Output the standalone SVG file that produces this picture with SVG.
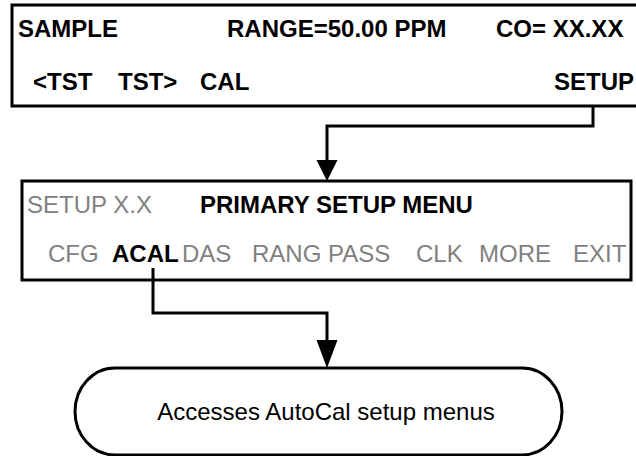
<svg xmlns="http://www.w3.org/2000/svg" width="636" height="456" viewBox="0 0 636 456">
<style>
.box{fill:#fff;stroke:#000;stroke-width:3}
.b{font-family:"Liberation Sans",Arial,sans-serif;font-size:24px;font-weight:bold;fill:#000}
.g{font-family:"Liberation Sans",Arial,sans-serif;font-size:24px;fill:#808080}
.t{font-family:"Liberation Sans",Arial,sans-serif;font-size:24px;fill:#000}
.c{fill:none;stroke:#000;stroke-width:3}
</style>
<rect width="636" height="456" fill="#fff"/>
<g id="sample-screen">
<rect class="box" x="12" y="5" width="630" height="101"/>
<text class="b" x="18" y="37">SAMPLE</text>
<text class="b" x="227" y="37">RANGE=50.00 PPM</text>
<text class="b" x="496" y="37">CO= XX.XX</text>
<text class="b" x="33" y="90">&lt;TST</text>
<text class="b" x="118" y="90">TST&gt;</text>
<text class="b" x="200" y="90">CAL</text>
<text class="b" x="554" y="90">SETUP</text>
</g>
<g id="setup-menu">
<rect class="box" x="22" y="181" width="609" height="99"/>
<text class="g" x="27" y="213">SETUP X.X</text>
<text class="b" x="200" y="213">PRIMARY SETUP MENU</text>
<text class="g" x="48" y="262">CFG</text>
<text class="b" x="112" y="262">ACAL</text>
<text class="g" x="182" y="262">DAS</text>
<text class="g" x="252" y="262">RANG PASS</text>
<text class="g" x="416" y="262">CLK</text>
<text class="g" x="479" y="262">MORE</text>
<text class="g" x="573" y="262">EXIT</text>
</g>
<g id="autocal">
<rect class="box" x="75" y="368" width="487" height="87" rx="40" ry="43.5"/>
<text class="t" x="326" y="420" text-anchor="middle">Accesses AutoCal setup menus</text>
</g>
<g id="connectors">
<path class="c" d="M593 106 V126 H327 V162"/>
<polygon points="316.5,160 337.5,160 327,181"/>
<path class="c" d="M153 268 V313 H327 V342"/>
<polygon points="316.5,340 337.5,340 327,368"/>
</g>
</svg>
